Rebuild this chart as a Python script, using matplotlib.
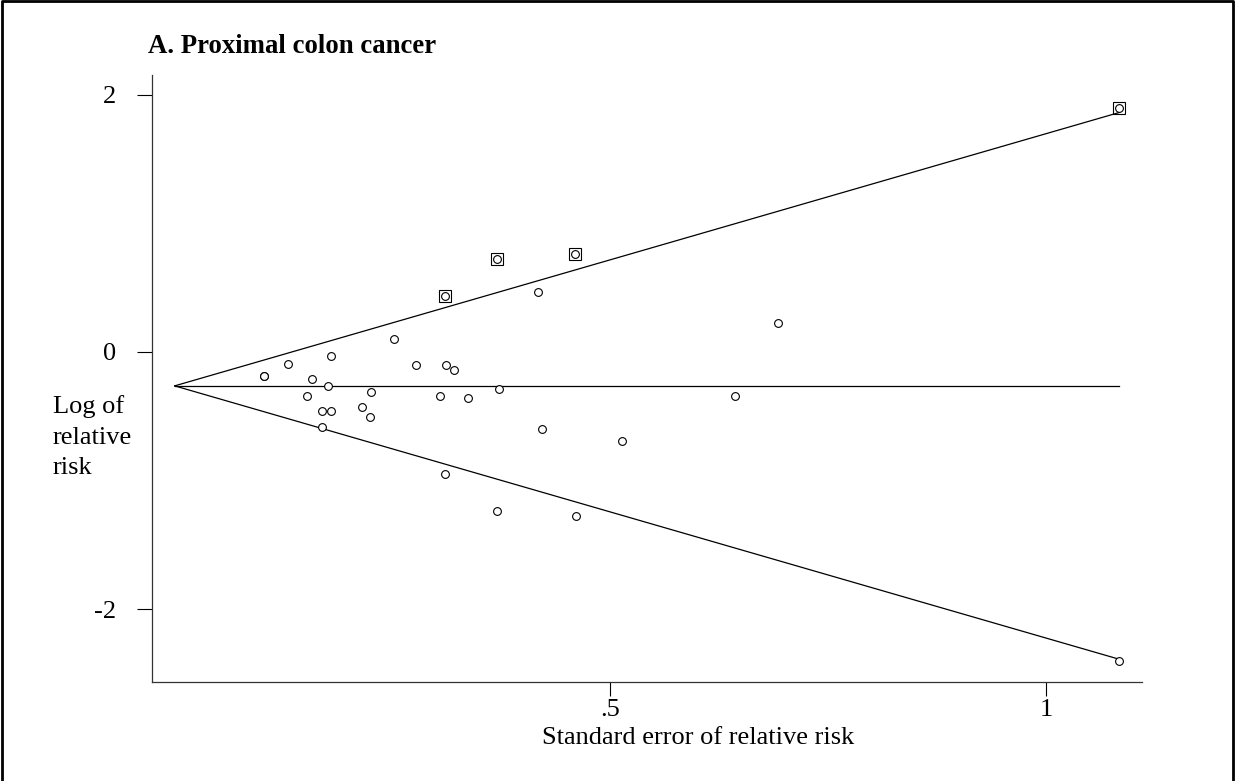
"""
Funnel plot: proximal colon cancer
"""

import matplotlib
matplotlib.use('Agg')
import matplotlib.pyplot as plt
from matplotlib.lines import Line2D

# Data
se = [0.102, 0.103, 0.130, 0.158, 0.179, 0.176, 0.152, 0.169, 0.179, 0.169,
      0.215, 0.224, 0.225, 0.252, 0.277, 0.311, 0.321, 0.305, 0.337, 0.372,
      0.310, 0.370, 0.459, 0.417, 0.422, 0.513, 0.310, 0.370, 0.460, 0.692,
      0.643, 1.084, 1.084]
log_rr = [-0.188, -0.190, -0.097, -0.214, -0.033, -0.264, -0.344, -0.460, -0.460, -0.582,
          -0.429, -0.509, -0.315, 0.102, -0.105, -0.105, -0.144, -0.344, -0.359, -0.287,
          0.434, 0.722, 0.763, 0.465, -0.603, -0.694, -0.945, -1.236, -1.274, 0.224,
          -0.344, -2.404, 1.896]
# studies marked with a square (above the upper limit)
flagged = [20, 21, 22, 32]
pooled = -0.264

x_ticks = [0.5, 1.0]
x_tick_labels = ['.5', '1']
y_ticks = [-2, 0, 2]
y_tick_labels = ['-2', '0', '2']

plt.rcParams['font.family'] = ['Liberation Serif', 'DejaVu Serif']

fig = plt.figure(figsize=(12.35, 7.81), dpi=100)
ax = fig.add_axes([0.1231, 0.1268, 0.8016, 0.7772])

# funnel limits
se_max = max(se)
ax.plot([0, se_max], [pooled, pooled], color='black', lw=0.9)
ax.plot([0, se_max], [pooled, pooled + 1.96 * se_max], color='black', lw=0.9)
ax.plot([0, se_max], [pooled, pooled - 1.96 * se_max], color='black', lw=0.9)

ax.plot(se, log_rr, 'o', ms=5.6, mfc='white', mec='black', mew=0.8, zorder=3)
ax.plot([se[i] for i in flagged], [log_rr[i] for i in flagged], 's', ms=8.6,
        mfc='none', mec='black', mew=0.8, zorder=4)

ax.set_xlim(-0.026, 1.110)
ax.set_ylim(-2.565, 2.152)
ax.spines['top'].set_visible(False)
ax.spines['right'].set_visible(False)
for s in ['left', 'bottom']:
    ax.spines[s].set_linewidth(0.9)
    ax.spines[s].set_color('#333333')

ax.set_xticks(x_ticks)
ax.set_xticklabels(x_tick_labels)
ax.set_yticks(y_ticks)
ax.set_yticklabels(y_tick_labels)
ax.tick_params(axis='y', length=11, width=0.8, pad=15, labelsize=19)
ax.tick_params(axis='x', length=10, width=0.8, pad=2, labelsize=19)

fig.text(0.1200, 0.9317, 'A. Proximal colon cancer', fontsize=19.3,
         fontweight='bold', ha='left', va='baseline')
fig.text(0.565, 0.0474, 'Standard error of relative risk', fontsize=19,
         ha='center', va='baseline')
for i, line in enumerate(['Log of', 'relative', 'risk']):
    fig.text(0.0429, 1 - (413.3 + 30.5 * i) / 781, line, fontsize=19,
             ha='left', va='baseline')

# outer frame (left, top, right)
frame = Line2D([0.0015, 0.0015, 0.9985, 0.9985], [0, 0.9985, 0.9985, 0],
               transform=fig.transFigure, color='black', lw=2)
fig.add_artist(frame)

fig.savefig('out.png', dpi=100)
